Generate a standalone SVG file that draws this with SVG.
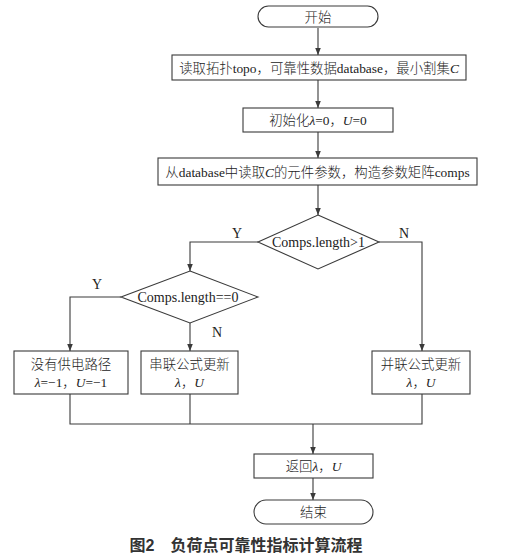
<svg xmlns="http://www.w3.org/2000/svg" width="512" height="558" viewBox="0 0 512 558">
<style>
.b{fill:#fff;stroke:#3a3a3a;stroke-width:1.1}
.l{fill:none;stroke:#3a3a3a;stroke-width:1.1}
.t{font-family:"Liberation Serif","Noto Sans CJK SC",serif;font-size:13.4px;font-weight:300;fill:#222;text-anchor:middle}
.d{font-size:14px}
.yn{font-size:14px}
.i{font-style:italic}
.cap{font-family:"Liberation Sans","Noto Sans CJK SC",sans-serif;font-size:16px;font-weight:bold;fill:#333;text-anchor:middle}
</style>
<defs>
<marker id="a" viewBox="0 0 8 8" refX="8" refY="4" markerWidth="7" markerHeight="7" markerUnits="userSpaceOnUse" orient="auto">
<path d="M0,0.8 L8,4 L0,7.2 Z" fill="#3a3a3a"/>
</marker>
</defs>
<g id="connectors">
<path class="l" d="M318,28 V55" marker-end="url(#a)"/>
<path class="l" d="M318,80 V108" marker-end="url(#a)"/>
<path class="l" d="M318,132 V158" marker-end="url(#a)"/>
<path class="l" d="M318,185 V215" marker-end="url(#a)"/>
<path class="l" d="M258,242 H190 V271" marker-end="url(#a)"/>
<path class="l" d="M379,242 H422 V351" marker-end="url(#a)"/>
<path class="l" d="M121,297 H70 V351" marker-end="url(#a)"/>
<path class="l" d="M190,323 V351" marker-end="url(#a)"/>
<path class="l" d="M70,394 V424 H422 V394"/>
<path class="l" d="M190,394 V424"/>
<path class="l" d="M313,424 V454" marker-end="url(#a)"/>
<path class="l" d="M313,478 V500" marker-end="url(#a)"/>
<text class="t yn" x="237" y="238">Y</text>
<text class="t yn" x="404" y="238">N</text>
<text class="t yn" x="97" y="289">Y</text>
<text class="t yn" x="217" y="337">N</text>
</g>
<g id="start">
<rect class="b" x="258" y="6" width="120" height="21" rx="10.5"/>
<text class="t" x="318" y="21.5">开始</text>
</g>
<g id="read">
<rect class="b" x="172" y="55" width="294" height="25"/>
<text class="t" x="319" y="72.5">读取拓扑topo，可靠性数据database，最小割集<tspan class="i">C</tspan></text>
</g>
<g id="init">
<rect class="b" x="243" y="108" width="150" height="24"/>
<text class="t" x="318" y="125">初始化<tspan class="i">λ</tspan>=0，<tspan class="i">U</tspan>=0</text>
</g>
<g id="build">
<rect class="b" x="158" y="158" width="319" height="27"/>
<text class="t" x="317.5" y="176.5">从database中读取<tspan class="i">C</tspan>的元件参数，构造参数矩阵comps</text>
</g>
<g id="d1">
<path class="b" d="M318,215 L379,242 L318,269 L258,242 Z"/>
<text class="t d" x="318.5" y="246.5">Comps.length&gt;1</text>
</g>
<g id="d2">
<path class="b" d="M190,271 L258,297 L190,323 L121,297 Z"/>
<text class="t d" x="188" y="301.5">Comps.length==0</text>
</g>
<g id="nopath">
<rect class="b" x="14" y="351" width="114" height="43"/>
<text class="t" x="71" y="369">没有供电路径</text>
<text class="t" x="71" y="386.5"><tspan class="i">λ</tspan>=−1，<tspan class="i">U</tspan>=−1</text>
</g>
<g id="series">
<rect class="b" x="141" y="351" width="97" height="43"/>
<text class="t" x="189.5" y="369">串联公式更新</text>
<text class="t" x="189.5" y="386.5"><tspan class="i">λ</tspan>，<tspan class="i">U</tspan></text>
</g>
<g id="parallel">
<rect class="b" x="372" y="351" width="98" height="43"/>
<text class="t" x="421" y="369">并联公式更新</text>
<text class="t" x="421" y="386.5"><tspan class="i">λ</tspan>，<tspan class="i">U</tspan></text>
</g>
<g id="return">
<rect class="b" x="254" y="454" width="119" height="24"/>
<text class="t" x="313.5" y="471">返回<tspan class="i">λ</tspan>，<tspan class="i">U</tspan></text>
</g>
<g id="end">
<rect class="b" x="254" y="500" width="119" height="24" rx="12"/>
<text class="t" x="313.5" y="517">结束</text>
</g>
<text class="cap" x="246" y="551">图2　负荷点可靠性指标计算流程</text>
</svg>
